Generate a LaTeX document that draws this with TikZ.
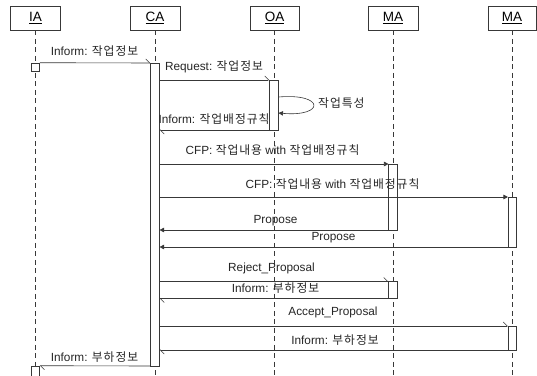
\documentclass[tikz,border=0pt]{standalone}
\usepackage{fontspec}
\setmainfont{Liberation Sans}
\newfontfamily\krfont{Noto Sans CJK KR}[Scale=1.0,LetterSpace=8]
\newcommand{\hk}[1]{{\krfont #1}}
\usetikzlibrary{arrows.meta}
\begin{document}
\begin{tikzpicture}[x=1pt,y=-1pt,
  ln/.style={draw=black!78, line width=0.6pt},
  head/.style={ln, minimum width=50pt, minimum height=24pt, inner sep=0, font=\fontsize{13.5}{15}\selectfont},
  life/.style={ln, dash pattern=on 5pt off 3.5pt},
  act/.style={ln, fill=white, minimum width=8.5pt, inner sep=0},
  lbl/.style={inner sep=0, font=\fontsize{11.8}{14}\selectfont, text=black!85},
  async/.style={ln, -{Straight Barb[left,length=4pt,width=8pt]}},
  sync/.style={ln, -{Triangle[length=4.5pt,width=4.5pt]}}]
\useasboundingbox[fill=white] (0,0) rectangle (537,375);
% bottom
\coordinate (bot) at (0,376);
% headers
\node[head] (IA) at (35.5,18) {\underline{IA}};
\node[head] (CA) at (155,18) {\underline{CA}};
\node[head, minimum width=49pt] (OA) at (274.5,18) {\underline{OA}};
\node[head] (MA1) at (393,18) {\underline{MA}};
\node[head, minimum width=48pt] (MA2) at (512,18) {\underline{MA}};
% lifelines
\draw[life] (IA.south) -- (IA.south |- bot);
\draw[life] (CA.south) -- (CA.south |- bot);
\draw[life] (OA.south) -- (OA.south |- bot);
\draw[life] (MA1.south) -- (MA1.south |- bot);
\draw[life] (MA2.south) -- (MA2.south |- bot);
% message levels
\coordinate (y1) at (0,63);
\coordinate (y2) at (0,80);
\coordinate (y3a) at (0,97);
\coordinate (y3b) at (0,113);
\coordinate (y4) at (0,130);
\coordinate (y5) at (0,164);
\coordinate (y6) at (0,197);
\coordinate (y7) at (0,230);
\coordinate (y8) at (0,247);
\coordinate (y9) at (0,281.5);
\coordinate (y10) at (0,298.5);
\coordinate (y11) at (0,326);
\coordinate (y12) at (0,350);
\coordinate (y13) at (0,366);
% activations
\node[act, minimum width=8pt, minimum height=8pt] (iaB1) at (35.5,67) {};
\node[act, minimum width=8pt, minimum height=10pt] (iaB2) at (35.5,371) {};
\node[act, minimum height=303pt] (caA) at (155,214.5) {};
\node[act, minimum height=50pt] (oaA) at (274,105) {};
\node[act, minimum height=66pt] (maA1) at (393,197) {};
\node[act, minimum height=50pt] (mbA1) at (512.5,222) {};
\node[act, minimum height=17pt] (maA2) at (393,290) {};
\node[act, minimum height=24pt] (mbA2) at (512.5,338) {};
% messages
\draw[async] (iaB1.north east) -- (caA.west |- y1);
\draw[async] (caA.east |- y2) -- (oaA.west |- y2);
\draw[sync] (oaA.east |- y3a) .. controls (325,93) and (325,117) .. (oaA.east |- y3b);
\draw[async] (oaA.west |- y4) -- (caA.east |- y4);
\draw[sync] (caA.east |- y5) -- (maA1.west |- y5);
\draw[sync] (caA.east |- y6) -- (mbA1.west |- y6);
\draw[sync] (maA1.west |- y7) -- (caA.east |- y7);
\draw[sync] (mbA1.west |- y8) -- (caA.east |- y8);
\draw[async] (caA.east |- y9) -- (maA2.west |- y9);
\draw[async] (maA2.west |- y10) -- (caA.east |- y10);
\draw[async] (caA.east |- y11) -- (mbA2.west |- y11);
\draw[async] (mbA2.west |- y12) -- (caA.east |- y12);
\draw[async] (caA.west |- y13) -- (iaB2.north east);
% labels
\node[lbl] (t1) at (94.5,51) {Inform: \hk{작업정보}};
\node[lbl] (t2) at (214,67) {Request: \hk{작업정보}};
\node[lbl, anchor=west] (t3) at (318,103) {\hk{작업특성}};
\node[lbl] (t4) at (214,119.5) {Inform: \hk{작업배정규칙}};
\node[lbl] (t5) at (272.5,150) {CFP: \hk{작업내용} with \hk{작업배정규칙}};
\node[lbl] (t6) at (332.5,184) {CFP: \hk{작업내용} with \hk{작업배정규칙}};
\node[lbl] (t7) at (275.5,221) {Propose};
\node[lbl] (t8) at (333.5,238) {Propose};
\node[lbl] (t9) at (271.5,268) {Reject\_Proposal};
\node[lbl] (t10) at (275.5,288) {Inform: \hk{부하정보}};
\node[lbl] (t11) at (333,312.5) {Accept\_Proposal};
\node[lbl] (t12) at (335,340) {Inform: \hk{부하정보}};
\node[lbl] (t13) at (94.5,357) {Inform: \hk{부하정보}};
\end{tikzpicture}
\end{document}
